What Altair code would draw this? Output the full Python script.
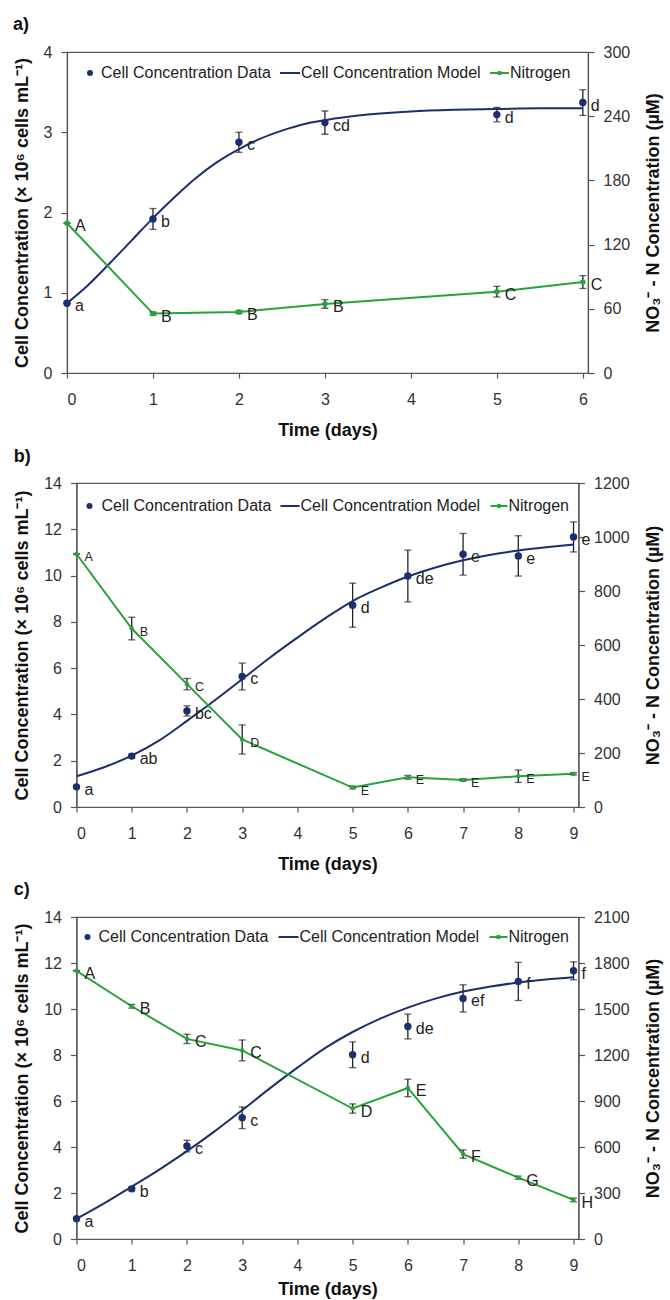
import altair as alt
import pandas as pd

FONT = "Liberation Sans"
NAVY = "#1b2e6e"
GREEN = "#27a33a"
INK = "#222222"
AXIS = "#555555"

# ---------------- Panel a ----------------
A_DAYS = [0, 1, 2, 3, 5, 6]
A_CELL = [0.87, 1.92, 2.875, 3.12, 3.22, 3.37]
A_CELL_ERR = [0.0, 0.13, 0.125, 0.145, 0.09, 0.16]
A_CELL_LAB = ["a", "b", "c", "cd", "d", "d"]
A_MODEL_T = [0, 0.25, 0.5, 0.75, 1, 1.25, 1.5, 1.75, 2, 2.25, 2.5, 2.75, 3, 3.5, 4, 4.5, 5, 5.5, 6]
A_MODEL_V = [0.87, 1.10, 1.37, 1.65, 1.93, 2.19, 2.43, 2.63, 2.79, 2.92, 3.02, 3.10, 3.15,
             3.22, 3.26, 3.28, 3.29, 3.30, 3.30]
A_NIT = [140, 55.5, 57, 64.5, 76, 85]
A_NIT_ERR = [0, 1.5, 1.5, 4, 5, 6]
A_NIT_LAB = ["A", "B", "B", "B", "C", "C"]
A_LEFT_TICKS = [0, 1, 2, 3, 4]
A_RIGHT_TICKS = [0, 60, 120, 180, 240, 300]
A_X_TICKS = [0, 1, 2, 3, 4, 5, 6]

# ---------------- Panel b ----------------
B_DAYS = [0, 1, 2, 3, 5, 6, 7, 8, 9]
B_CELL = [0.87, 2.20, 4.15, 5.64, 8.72, 9.98, 10.92, 10.85, 11.67]
B_CELL_ERR = [0.05, 0.08, 0.22, 0.58, 0.95, 1.12, 0.90, 0.87, 0.65]
B_CELL_LAB = ["a", "ab", "bc", "c", "d", "de", "e", "e", "e"]
B_MODEL_T = [0, 0.5, 1, 1.5, 2, 2.5, 3, 3.5, 4, 4.5, 5, 5.5, 6, 6.5, 7, 7.5, 8, 8.5, 9]
B_MODEL_V = [1.33, 1.72, 2.22, 2.88, 3.72, 4.60, 5.52, 6.45, 7.32, 8.15, 8.90, 9.47, 9.96,
             10.35, 10.66, 10.90, 11.08, 11.22, 11.34]
B_NIT = [937, 661, 455, 250, 72, 110, 100, 114, 123]
B_NIT_ERR = [0, 42, 21, 54, 5, 7, 4, 23, 4]
B_NIT_LAB = ["A", "B", "C", "D", "E", "E", "E", "E", "E"]
B_LEFT_TICKS = [0, 2, 4, 6, 8, 10, 12, 14]
B_RIGHT_TICKS = [0, 200, 400, 600, 800, 1000, 1200]
B_X_TICKS = [0, 1, 2, 3, 4, 5, 6, 7, 8, 9]

# ---------------- Panel c ----------------
C_DAYS = [0, 1, 2, 3, 5, 6, 7, 8, 9]
C_CELL = [0.88, 2.18, 4.04, 5.27, 8.01, 9.24, 10.46, 11.20, 11.66]
C_CELL_ERR = [0.05, 0.08, 0.25, 0.47, 0.56, 0.54, 0.59, 0.83, 0.39]
C_CELL_LAB = ["a", "b", "c", "c", "d", "de", "ef", "f", "f"]
C_MODEL_T = [0, 0.5, 1, 1.5, 2, 2.5, 3, 3.5, 4, 4.5, 5, 5.5, 6, 6.5, 7, 7.5, 8, 8.5, 9]
C_MODEL_V = [0.88, 1.55, 2.28, 3.02, 3.82, 4.68, 5.60, 6.55, 7.45, 8.30, 9.00, 9.58, 10.06,
             10.45, 10.76, 10.98, 11.15, 11.28, 11.38]
C_NIT = [1749, 1518, 1305, 1230, 851, 985, 554, 400, 255]
C_NIT_ERR = [0, 12, 30, 68, 30, 57, 27, 10, 12]
C_NIT_LAB = ["A", "B", "C", "C", "D", "E", "F", "G", "H"]
C_LEFT_TICKS = [0, 2, 4, 6, 8, 10, 12, 14]
C_RIGHT_TICKS = [0, 300, 600, 900, 1200, 1500, 1800, 2100]
C_X_TICKS = [0, 1, 2, 3, 4, 5, 6, 7, 8, 9]

LEFT_TITLE = "Cell Concentration (\u00d7 10\u2076 cells mL\u207b\u00b9)"
RIGHT_TITLE = "NO\u2083\u207b - N Concentration (\u00b5M)"


def left_axis(ticks, tpad):
    return alt.Axis(values=ticks, orient="left", title=LEFT_TITLE, format="d",
                    labelFontSize=16, labelPadding=9, tickSize=6,
                    titleFontSize=18, titlePadding=tpad)


def panel(tag, days, cell, cell_err, cell_lab, model_t, model_v, nit, nit_err, nit_lab,
          left_ticks, right_ticks, x_ticks, xmax, width, height, leg, nit_font, nit_size,
          title_offset, ltpad, xtpad):
    cdf = pd.DataFrame({
        "t": days, "v": cell,
        "lo": [v - e for v, e in zip(cell, cell_err)],
        "hi": [v + e for v, e in zip(cell, cell_err)],
        "lab": cell_lab,
    })
    mdf = pd.DataFrame({"t": model_t, "v": model_v})
    ndf = pd.DataFrame({
        "t": days, "n": nit,
        "lo": [v - e for v, e in zip(nit, nit_err)],
        "hi": [v + e for v, e in zip(nit, nit_err)],
        "lab": nit_lab,
    })

    lscale = alt.Scale(domain=[left_ticks[0], left_ticks[-1]], nice=False)
    rscale = alt.Scale(domain=[right_ticks[0], right_ticks[-1]], nice=False)
    X = alt.X("t:Q", scale=alt.Scale(domain=[0, xmax], nice=False, zero=False),
              axis=alt.Axis(values=x_ticks, title="Time (days)", format="d",
                            labelFontSize=16, labelPadding=13, tickSize=5,
                            titleFontSize=18, titlePadding=xtpad))
    YL = alt.Y("v:Q", scale=lscale, axis=left_axis(left_ticks, ltpad))
    YR = alt.Y("n:Q", scale=rscale,
               axis=alt.Axis(values=right_ticks, orient="right", title=RIGHT_TITLE, format="d",
                             labelFontSize=16, labelPadding=9, tickSize=6,
                             titleFontSize=18, titlePadding=15, titleAngle=270,
                             titleBaseline="top"))

    tick_kw = dict(color=INK, orient="horizontal", size=7, thickness=1.3)

    # cell layers
    c_err = alt.Chart(cdf).mark_rule(color=INK, strokeWidth=1.3).encode(
        x=X, y=alt.Y("lo:Q", scale=lscale, axis=left_axis(left_ticks, ltpad)), y2="hi:Q")
    c_cap_lo = alt.Chart(cdf).mark_tick(**tick_kw).encode(x=X, y=alt.Y("lo:Q"))
    c_cap_hi = alt.Chart(cdf).mark_tick(**tick_kw).encode(x=X, y=alt.Y("hi:Q"))
    c_model = alt.Chart(mdf).mark_line(color=NAVY, strokeWidth=2, interpolate="monotone").encode(
        x=X, y=YL)
    c_pts = alt.Chart(cdf).mark_circle(color=NAVY, size=55, opacity=1).encode(x=X, y=YL)
    c_lab = alt.Chart(cdf).mark_text(align="left", baseline="middle", dx=8, dy=3,
                                     fontSize=16, color=INK, font=FONT).encode(
        x=X, y=YL, text="lab:N")
    cell_layer = alt.layer(c_err, c_cap_lo, c_cap_hi, c_model, c_pts, c_lab)

    # nitrogen layers
    n_line = alt.Chart(ndf).mark_line(color=GREEN, strokeWidth=2).encode(x=X, y=YR)
    n_pts = alt.Chart(ndf).mark_circle(color=GREEN, size=nit_size, opacity=1).encode(x=X, y=YR)
    n_err = alt.Chart(ndf).mark_rule(color=INK, strokeWidth=1.3).encode(
        x=X, y=alt.Y("lo:Q"), y2="hi:Q")
    n_cap_lo = alt.Chart(ndf).mark_tick(**tick_kw).encode(x=X, y=alt.Y("lo:Q"))
    n_cap_hi = alt.Chart(ndf).mark_tick(**tick_kw).encode(x=X, y=alt.Y("hi:Q"))
    n_lab = alt.Chart(ndf).mark_text(align="left", baseline="middle", dx=8, dy=3,
                                     fontSize=nit_font, color=INK, font=FONT).encode(
        x=X, y=YR, text="lab:N")
    nit_layer = alt.layer(n_line, n_err, n_cap_lo, n_cap_hi, n_pts, n_lab)

    # legend (inside plot)
    one = pd.DataFrame({"k": [0]})
    ly = leg["y"]
    legend = [
        alt.Chart(one).mark_circle(color=NAVY, size=36, opacity=1).encode(
            x=alt.value(leg["dot"]), y=alt.value(ly)),
        alt.Chart(one).mark_text(align="left", baseline="middle", fontSize=16, color=INK,
                                 font=FONT, text="Cell Concentration Data").encode(
            x=alt.value(leg["t1"]), y=alt.value(ly)),
        alt.Chart(one).mark_rule(color=NAVY, strokeWidth=2).encode(
            x=alt.value(leg["l2"][0]), x2=alt.value(leg["l2"][1]), y=alt.value(ly)),
        alt.Chart(one).mark_text(align="left", baseline="middle", fontSize=16, color=INK,
                                 font=FONT, text="Cell Concentration Model").encode(
            x=alt.value(leg["l2"][1] + 1), y=alt.value(ly)),
        alt.Chart(one).mark_rule(color=GREEN, strokeWidth=2).encode(
            x=alt.value(leg["l3"][0]), x2=alt.value(leg["l3"][1]), y=alt.value(ly)),
        alt.Chart(one).mark_circle(color=GREEN, size=22, opacity=1).encode(
            x=alt.value((leg["l3"][0] + leg["l3"][1]) / 2), y=alt.value(ly)),
        alt.Chart(one).mark_text(align="left", baseline="middle", fontSize=16, color=INK,
                                 font=FONT, text="Nitrogen").encode(
            x=alt.value(leg["l3"][1] + 1), y=alt.value(ly)),
    ]

    return alt.layer(cell_layer, nit_layer, *legend).resolve_scale(y="independent").properties(
        width=width, height=height,
        title=alt.Title(tag, anchor="start", frame="bounds", fontSize=18, fontWeight="bold",
                        font=FONT, color="#111111", offset=title_offset),
    )


pa = panel("a)", A_DAYS, A_CELL, A_CELL_ERR, A_CELL_LAB, A_MODEL_T, A_MODEL_V,
           A_NIT, A_NIT_ERR, A_NIT_LAB, A_LEFT_TICKS, A_RIGHT_TICKS, A_X_TICKS, 6.06,
           521, 321, {"y": 21, "dot": 23, "t1": 34, "l2": (213, 233), "l3": (423, 442)}, 16, 30,
           10, 12, 14)
pb = panel("b)", B_DAYS, B_CELL, B_CELL_ERR, B_CELL_LAB, B_MODEL_T, B_MODEL_V,
           B_NIT, B_NIT_ERR, B_NIT_LAB, B_LEFT_TICKS, B_RIGHT_TICKS, B_X_TICKS, 9.09,
           502, 324, {"y": 23, "dot": 13, "t1": 25, "l2": (204, 223), "l3": (414, 431)}, 12.5, 20,
           9, 12, 14)
pc = panel("c)", C_DAYS, C_CELL, C_CELL_ERR, C_CELL_LAB, C_MODEL_T, C_MODEL_V,
           C_NIT, C_NIT_ERR, C_NIT_LAB, C_LEFT_TICKS, C_RIGHT_TICKS, C_X_TICKS, 9.09,
           502, 322, {"y": 20, "dot": 11, "t1": 22, "l2": (202, 222), "l3": (413, 431)}, 16, 20,
           10, 12, 7)

chart = alt.vconcat(pa, pb, pc, spacing=110, center=True, bounds="flush").properties(
    padding={"left": 12, "top": 15, "right": 2, "bottom": 2},
    background="white",
).configure(font=FONT).configure_view(
    stroke=AXIS, strokeWidth=1.2
).configure_axis(
    grid=False, domainColor=AXIS, tickColor=AXIS, domainWidth=1.2, tickWidth=1.2,
    labelColor="#333333", titleColor="#111111", labelFont=FONT, titleFont=FONT,
    titleFontWeight="bold",
)

chart.save("out.html", embed_options={"renderer": "svg", "actions": False})
